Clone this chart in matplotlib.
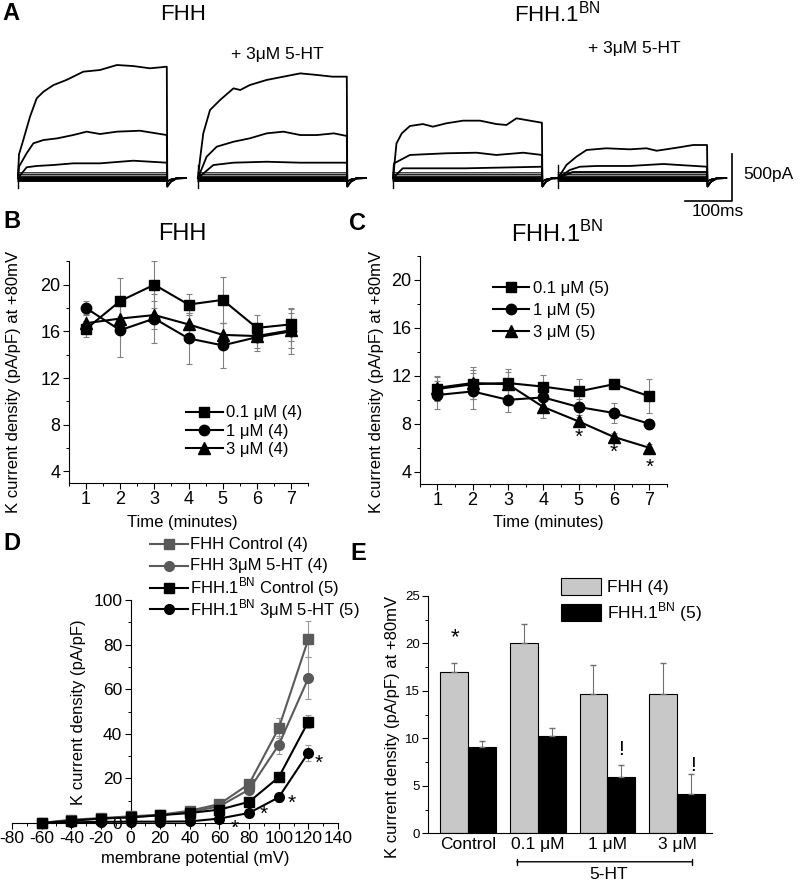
import numpy as np
import matplotlib
matplotlib.use("Agg")
import matplotlib.pyplot as plt
from matplotlib.ticker import MultipleLocator

plt.rcParams['font.family'] = ['Liberation Sans', 'DejaVu Sans']
plt.rcParams['mathtext.fontset'] = 'custom'
plt.rcParams['mathtext.rm'] = 'Liberation Sans'
plt.rcParams['axes.unicode_minus'] = False

BN = 'FHH.1$^{\\mathrm{BN}}$'

# ---- panel A: current traces (time in ms, current in pA)
fhh_ctrl_t = [[0, 2, 11, 25, 39, 53, 74, 101, 136, 171, 206, 240, 275, 310],
              [0, 2, 18, 32, 53, 81, 115, 143, 171, 206, 254, 310],
              [0, 18, 39, 73, 115, 171, 240, 310]]
fhh_ctrl_i = [[0, 250, 404, 652, 848, 918, 989, 1043, 1131, 1149, 1202, 1191, 1167, 1184],
              [0, 120, 263, 369, 404, 421, 457, 493, 468, 493, 503, 457],
              [0, 114, 128, 138, 156, 156, 184, 163]]
fhh_5ht_t = [[0, 4, 11, 25, 46, 74, 88, 108, 143, 178, 213, 248, 280, 310],
             [0, 18, 39, 74, 108, 143, 178, 213, 248, 283, 310],
             [0, 32, 74, 143, 213, 310]]
fhh_5ht_i = [[0, 191, 475, 723, 830, 954, 936, 989, 1043, 1078, 1113, 1096, 1078, 1078],
             [0, 227, 333, 386, 422, 475, 493, 457, 457, 475, 447],
             [0, 138, 163, 173, 163, 163]]
bn_ctrl_t = [[0, 7, 18, 35, 62, 83, 111, 146, 181, 215, 236, 257, 285, 310],
             [0, 2, 35, 111, 174, 215, 271, 310],
             [0, 20, 150, 310]]
bn_ctrl_i = [[0, 368, 475, 553, 574, 546, 582, 610, 610, 574, 564, 635, 610, 588],
             [0, 156, 245, 263, 269, 245, 269, 245],
             [0, 103, 103, 120]]
bn_5ht_t = [[0, 17, 38, 59, 100, 149, 184, 205, 253, 281, 310],
            [0, 24, 45, 80, 149, 219, 253, 310],
            [0, 30, 310]]
bn_5ht_i = [[0, 138, 227, 298, 316, 305, 316, 290, 327, 351, 351],
            [0, 85, 120, 128, 128, 149, 138, 120],
            [0, 64, 64]]
small_levels = [55, 35, 18, 6, -6, -16, -26, -36]
tail_t = [311, 318, 330, 350]
tail_i = [-90, -40, -5, 0]

# ---- panel B / C: time course
minutes = [1, 2, 3, 4, 5, 6, 7]
b_01 = [16.2, 18.6, 20.0, 18.3, 18.7, 16.3, 16.6]
b_01_err = [0.7, 2.0, 2.0, 0.9, 2.0, 1.1, 1.4]
b_1 = [18.0, 16.1, 17.1, 15.4, 14.8, 15.5, 16.0]
b_1_err = [0.6, 2.3, 2.1, 2.2, 1.9, 1.2, 1.9]
b_3 = [16.7, 17.1, 17.4, 16.6, 15.7, 15.6, 16.1]
b_3_err = [0.8, 1.2, 1.2, 1.0, 1.0, 1.0, 1.5]

c_01 = [10.9, 11.3, 11.4, 11.1, 10.7, 11.3, 10.3]
c_01_err = [1.0, 1.2, 1.2, 1.0, 1.0, 0.4, 1.4]
c_1 = [10.4, 10.7, 10.0, 10.2, 9.4, 8.9, 8.0]
c_1_err = [1.2, 1.5, 1.0, 0.9, 0.7, 0.8, 0.4]
c_3 = [11.0, 11.4, 11.3, 9.4, 8.2, 6.9, 6.0]
c_3_err = [1.0, 1.3, 1.0, 0.9, 0.4, 0.3, 0.3]
c_star_x = [5, 6, 7]
c_star_y = [6.9, 5.6, 4.4]

# ---- panel D: I-V
volts = [-60, -40, -20, 0, 20, 40, 60, 80, 100, 120]
d_fhh_ctrl = [0, 1.5, 2.2, 3.0, 3.7, 5.5, 8.5, 17.5, 42.5, 82.5]
d_fhh_ctrl_err = [0.3, 0.3, 0.3, 0.4, 0.5, 0.7, 1.0, 2.0, 4.5, 8.0]
d_fhh_5ht = [0, 1.2, 2.0, 2.7, 3.5, 5.0, 7.5, 15.0, 35.0, 65.0]
d_fhh_5ht_err = [0.3, 0.3, 0.3, 0.4, 0.5, 0.7, 1.0, 2.0, 4.0, 9.5]
d_bn_ctrl = [0, 1.0, 2.0, 2.5, 3.5, 4.5, 6.0, 9.5, 20.5, 45.5]
d_bn_ctrl_err = [0.3, 0.3, 0.3, 0.3, 0.4, 0.5, 0.6, 1.0, 1.5, 3.0]
d_bn_5ht = [0, 0.3, 0.5, 0.6, 0.6, 0.7, 2.0, 4.5, 11.5, 31.5]
d_bn_5ht_err = [0.2, 0.2, 0.2, 0.2, 0.2, 0.3, 0.5, 1.0, 2.0, 3.5]
d_star_x = [70, 90, 109, 127]
d_star_y = [-2.5, 3.7, 9.0, 26.6]

# ---- panel E: bars
e_groups = ['Control', '0.1 \u03bcM', '1 \u03bcM', '3 \u03bcM']
e_fhh = [17.0, 20.1, 14.7, 14.7]
e_fhh_err = [0.95, 2.0, 3.0, 3.2]
e_bn = [9.1, 10.3, 5.9, 4.1]
e_bn_err = [0.6, 0.75, 1.25, 2.2]

W, H = 800, 881
fig = plt.figure(figsize=(8, 8.81), dpi=100)


def px_axes(l, t, r, b):
    return fig.add_axes([l / W, 1 - b / H, (r - l) / W, (b - t) / H])


def ptext(x, y, s, **kw):
    fig.text(x / W, 1 - y / H, s, **kw)


def style_axes(ax, size=13):
    for s in ['top', 'right']:
        ax.spines[s].set_visible(False)
    ax.tick_params(direction='out', length=4.5, width=0.8, labelsize=size, pad=1.5)
    ax.tick_params(which='minor', direction='out', length=2.5, width=0.7)


# ================= A
ax_a = px_axes(0, 30, 800, 220)
ax_a.set_xlim(0, W / 0.48)
ax_a.set_ylim(-(220 - 178) / 0.094, (178 - 30) / 0.094)
ax_a.axis('off')
groups_a = [(fhh_ctrl_t, fhh_ctrl_i, 37.5), (fhh_5ht_t, fhh_5ht_i, 412.5),
            (bn_ctrl_t, bn_ctrl_i, 819), (bn_5ht_t, bn_5ht_i, 1163)]
for ts, cs, off in groups_a:
    for lev in small_levels:
        ax_a.plot(np.array([0, 310] + tail_t) + off, [lev, lev] + [v * 0.4 for v in tail_i],
                  color='k', lw=0.8)
    for t, c in zip(ts, cs):
        ax_a.plot(np.array(t + tail_t) + off, c + tail_i, color='k', lw=1.3)
    ax_a.plot([off, off], [-110, 140], color='k', lw=1.0)
# scale bar
ax_a.plot([685 / 0.48, 732 / 0.48, 732 / 0.48], [-241, -241, 259], color='k', lw=1.2)
ptext(743, 175, '500pA', fontsize=12.5, va='center', ha='left')
ptext(718, 212, '100ms', fontsize=12.5, va='center', ha='center')
ptext(11, 14, 'A', fontsize=17, fontweight='bold', va='center', ha='center')
ptext(183, 14, 'FHH', fontsize=16, va='center', ha='center')
ptext(277, 54, '+ 3\u03bcM 5-HT', fontsize=12.5, va='center', ha='center')
ptext(557, 14, BN, fontsize=16, va='center', ha='center')
ptext(634, 49, '+ 3\u03bcM 5-HT', fontsize=12.5, va='center', ha='center')

# ================= B and C
ekw = dict(ecolor='#808080', elinewidth=0.8, capsize=2, capthick=0.8, zorder=1)
lkw = dict(color='k', lw=1.5, zorder=3)


def time_panel(ax, s01, e01, s1, e1, s3, e3, n):
    ax.errorbar(minutes, s01, yerr=e01, fmt='none', **ekw)
    ax.errorbar(minutes, s1, yerr=e1, fmt='none', **ekw)
    ax.errorbar(minutes, s3, yerr=e3, fmt='none', **ekw)
    ax.plot(minutes, s01, marker='s', ms=7, label='0.1 \u03bcM (%d)' % n, **lkw)
    ax.plot(minutes, s1, marker='o', ms=7.5, label='1 \u03bcM (%d)' % n, **lkw)
    ax.plot(minutes, s3, marker='^', ms=8, label='3 \u03bcM (%d)' % n, **lkw)
    ax.set_xlim(0.5, 7.5)
    ax.set_ylim(3, 22)
    ax.set_xticks(minutes)
    ax.set_yticks([4, 8, 12, 16, 20])
    ax.xaxis.set_minor_locator(MultipleLocator(0.5))
    ax.yaxis.set_minor_locator(MultipleLocator(2))
    style_axes(ax)


ax_b = px_axes(68.9, 261.4, 308.1, 483)
time_panel(ax_b, b_01, b_01_err, b_1, b_1_err, b_3, b_3_err, 4)
ax_b.legend(loc='upper left', bbox_to_anchor=(0.49, 0.35), frameon=False, fontsize=12,
            handlelength=2.2, handletextpad=0.2, labelspacing=0.2, borderpad=0, borderaxespad=0)
ptext(11.5, 222, 'B', fontsize=17, fontweight='bold', va='center', ha='center')
ptext(182, 234, 'FHH', fontsize=17, va='center', ha='center')
ptext(13.5, 382, 'K current density (pA/pF) at +80mV', fontsize=12, rotation=90,
      va='center', ha='center')
ptext(182, 522, 'Time (minutes)', fontsize=12, va='center', ha='center')

ax_c = px_axes(419.6, 256, 666.9, 483.7)
time_panel(ax_c, c_01, c_01_err, c_1, c_1_err, c_3, c_3_err, 5)
ax_c.legend(loc='upper left', bbox_to_anchor=(0.295, 0.889), frameon=False, fontsize=12,
            handlelength=2.2, handletextpad=0.2, labelspacing=0.41, borderpad=0, borderaxespad=0)
for x, y in zip(c_star_x, c_star_y):
    ax_c.text(x, y, '*', fontsize=15, ha='center', va='center')
ptext(357, 223, 'C', fontsize=17, fontweight='bold', va='center', ha='center')
ptext(557, 234, BN, fontsize=17, va='center', ha='center')
ptext(377, 382, 'K current density (pA/pF) at +80mV', fontsize=12, rotation=90,
      va='center', ha='center')
ptext(548, 522, 'Time (minutes)', fontsize=12, va='center', ha='center')

# ================= D
ax_d = px_axes(12, 600, 338, 823)
gray = '#5a5a5a'
dser = [(d_fhh_ctrl, d_fhh_ctrl_err, gray, 's', 'FHH Control (4)'),
        (d_fhh_5ht, d_fhh_5ht_err, gray, 'o', 'FHH 3\u03bcM 5-HT (4)'),
        (d_bn_ctrl, d_bn_ctrl_err, 'k', 's', BN + ' Control (5)'),
        (d_bn_5ht, d_bn_5ht_err, 'k', 'o', BN + ' 3\u03bcM 5-HT (5)')]
leg_rows = [544, 565.5, 587.5, 609]
for (vals, err, col, mk, lab), ry in zip(dser, leg_rows):
    ms = 6.5 if mk == 's' else 7
    ax_d.errorbar(volts, vals, yerr=err, fmt='none', ecolor='#9a9a9a', elinewidth=0.8,
                  capsize=2, capthick=0.8, zorder=1, clip_on=False)
    ax_d.plot(volts, vals, color=col, marker=mk, ms=ms, lw=1.5, zorder=3, clip_on=False)
    # legend row drawn by hand so the rows keep even spacing
    fy = 1 - ry / H
    fig.add_artist(plt.Line2D([150 / W, 188 / W], [fy, fy], color=col, lw=1.5))
    fig.add_artist(plt.Line2D([169 / W], [fy], color=col, marker=mk, ms=ms))
    ptext(190, ry, lab, fontsize=12, va='center', ha='left')
for x, y in zip(d_star_x, d_star_y):
    ax_d.text(x, y, '*', fontsize=15, ha='center', va='center')
ax_d.set_xlim(-80, 140)
ax_d.set_ylim(0, 100)
ax_d.spines['left'].set_position(('data', 0))
ax_d.set_xticks(range(-80, 141, 20))
ax_d.set_yticks([0, 20, 40, 60, 80, 100])
ax_d.xaxis.set_minor_locator(MultipleLocator(10))
ax_d.yaxis.set_minor_locator(MultipleLocator(10))
style_axes(ax_d, 12.5)
ptext(12, 544, 'D', fontsize=17, fontweight='bold', va='center', ha='center')
ptext(195, 858, 'membrane potential (mV)', fontsize=12, va='center', ha='center')
ptext(79, 712, 'K current density (pA/pF)', fontsize=12, rotation=90, va='center', ha='center')

# ================= E
ax_e = px_axes(428, 596, 712, 833.3)
x = np.arange(len(e_groups))
bw = 0.4
ax_e.bar(x - bw / 2, e_fhh, bw, color='#c8c8c8', edgecolor='k', lw=0.8, label='FHH (4)',
         yerr=[np.zeros(4), e_fhh_err], error_kw=dict(ecolor='#707070', elinewidth=0.8, capsize=2))
ax_e.bar(x + bw / 2, e_bn, bw, color='k', edgecolor='k', lw=0.8, label=BN + ' (5)',
         yerr=[np.zeros(4), e_bn_err], error_kw=dict(ecolor='#707070', elinewidth=0.8, capsize=2))
ax_e.set_xlim(-0.574, 3.5)
ax_e.set_ylim(0, 25)
ax_e.set_yticks([0, 5, 10, 15, 20, 25])
ax_e.yaxis.set_minor_locator(MultipleLocator(2.5))
ax_e.set_xticks(x)
ax_e.set_xticklabels(e_groups)
style_axes(ax_e)
ax_e.tick_params(axis='y', labelsize=9.5)
ax_e.tick_params(axis='x', length=0, labelsize=12.5, pad=3)
ax_e.text(-0.19, 20.6, '*', fontsize=16, ha='center', va='center')
ax_e.text(2.2, 8.8, '!', fontsize=15, ha='center', va='center')
ax_e.text(3.23, 7.1, '!', fontsize=15, ha='center', va='center')
ax_e.annotate('', xy=(0.7, -3.0), xytext=(3.22, -3.0), annotation_clip=False,
              arrowprops=dict(arrowstyle='|-|,widthA=0.2,widthB=0.2', lw=1.0, color='k',
                              shrinkA=0, shrinkB=0))
ax_e.text(2.02, -4.3, '5-HT', fontsize=12.5, ha='center', va='center')
ax_e.legend(loc='upper left', bbox_to_anchor=(0.47, 1.075), frameon=False, fontsize=12.5,
            handlelength=2.3, handleheight=1.1, handletextpad=0.3, labelspacing=0.3,
            borderpad=0, borderaxespad=0)
ptext(358, 554, 'E', fontsize=17, fontweight='bold', va='center', ha='center')
ptext(393, 727, 'K current density (pA/pF) at +80mV', fontsize=12, rotation=90,
      va='center', ha='center')

fig.savefig('out.png', dpi=100)
